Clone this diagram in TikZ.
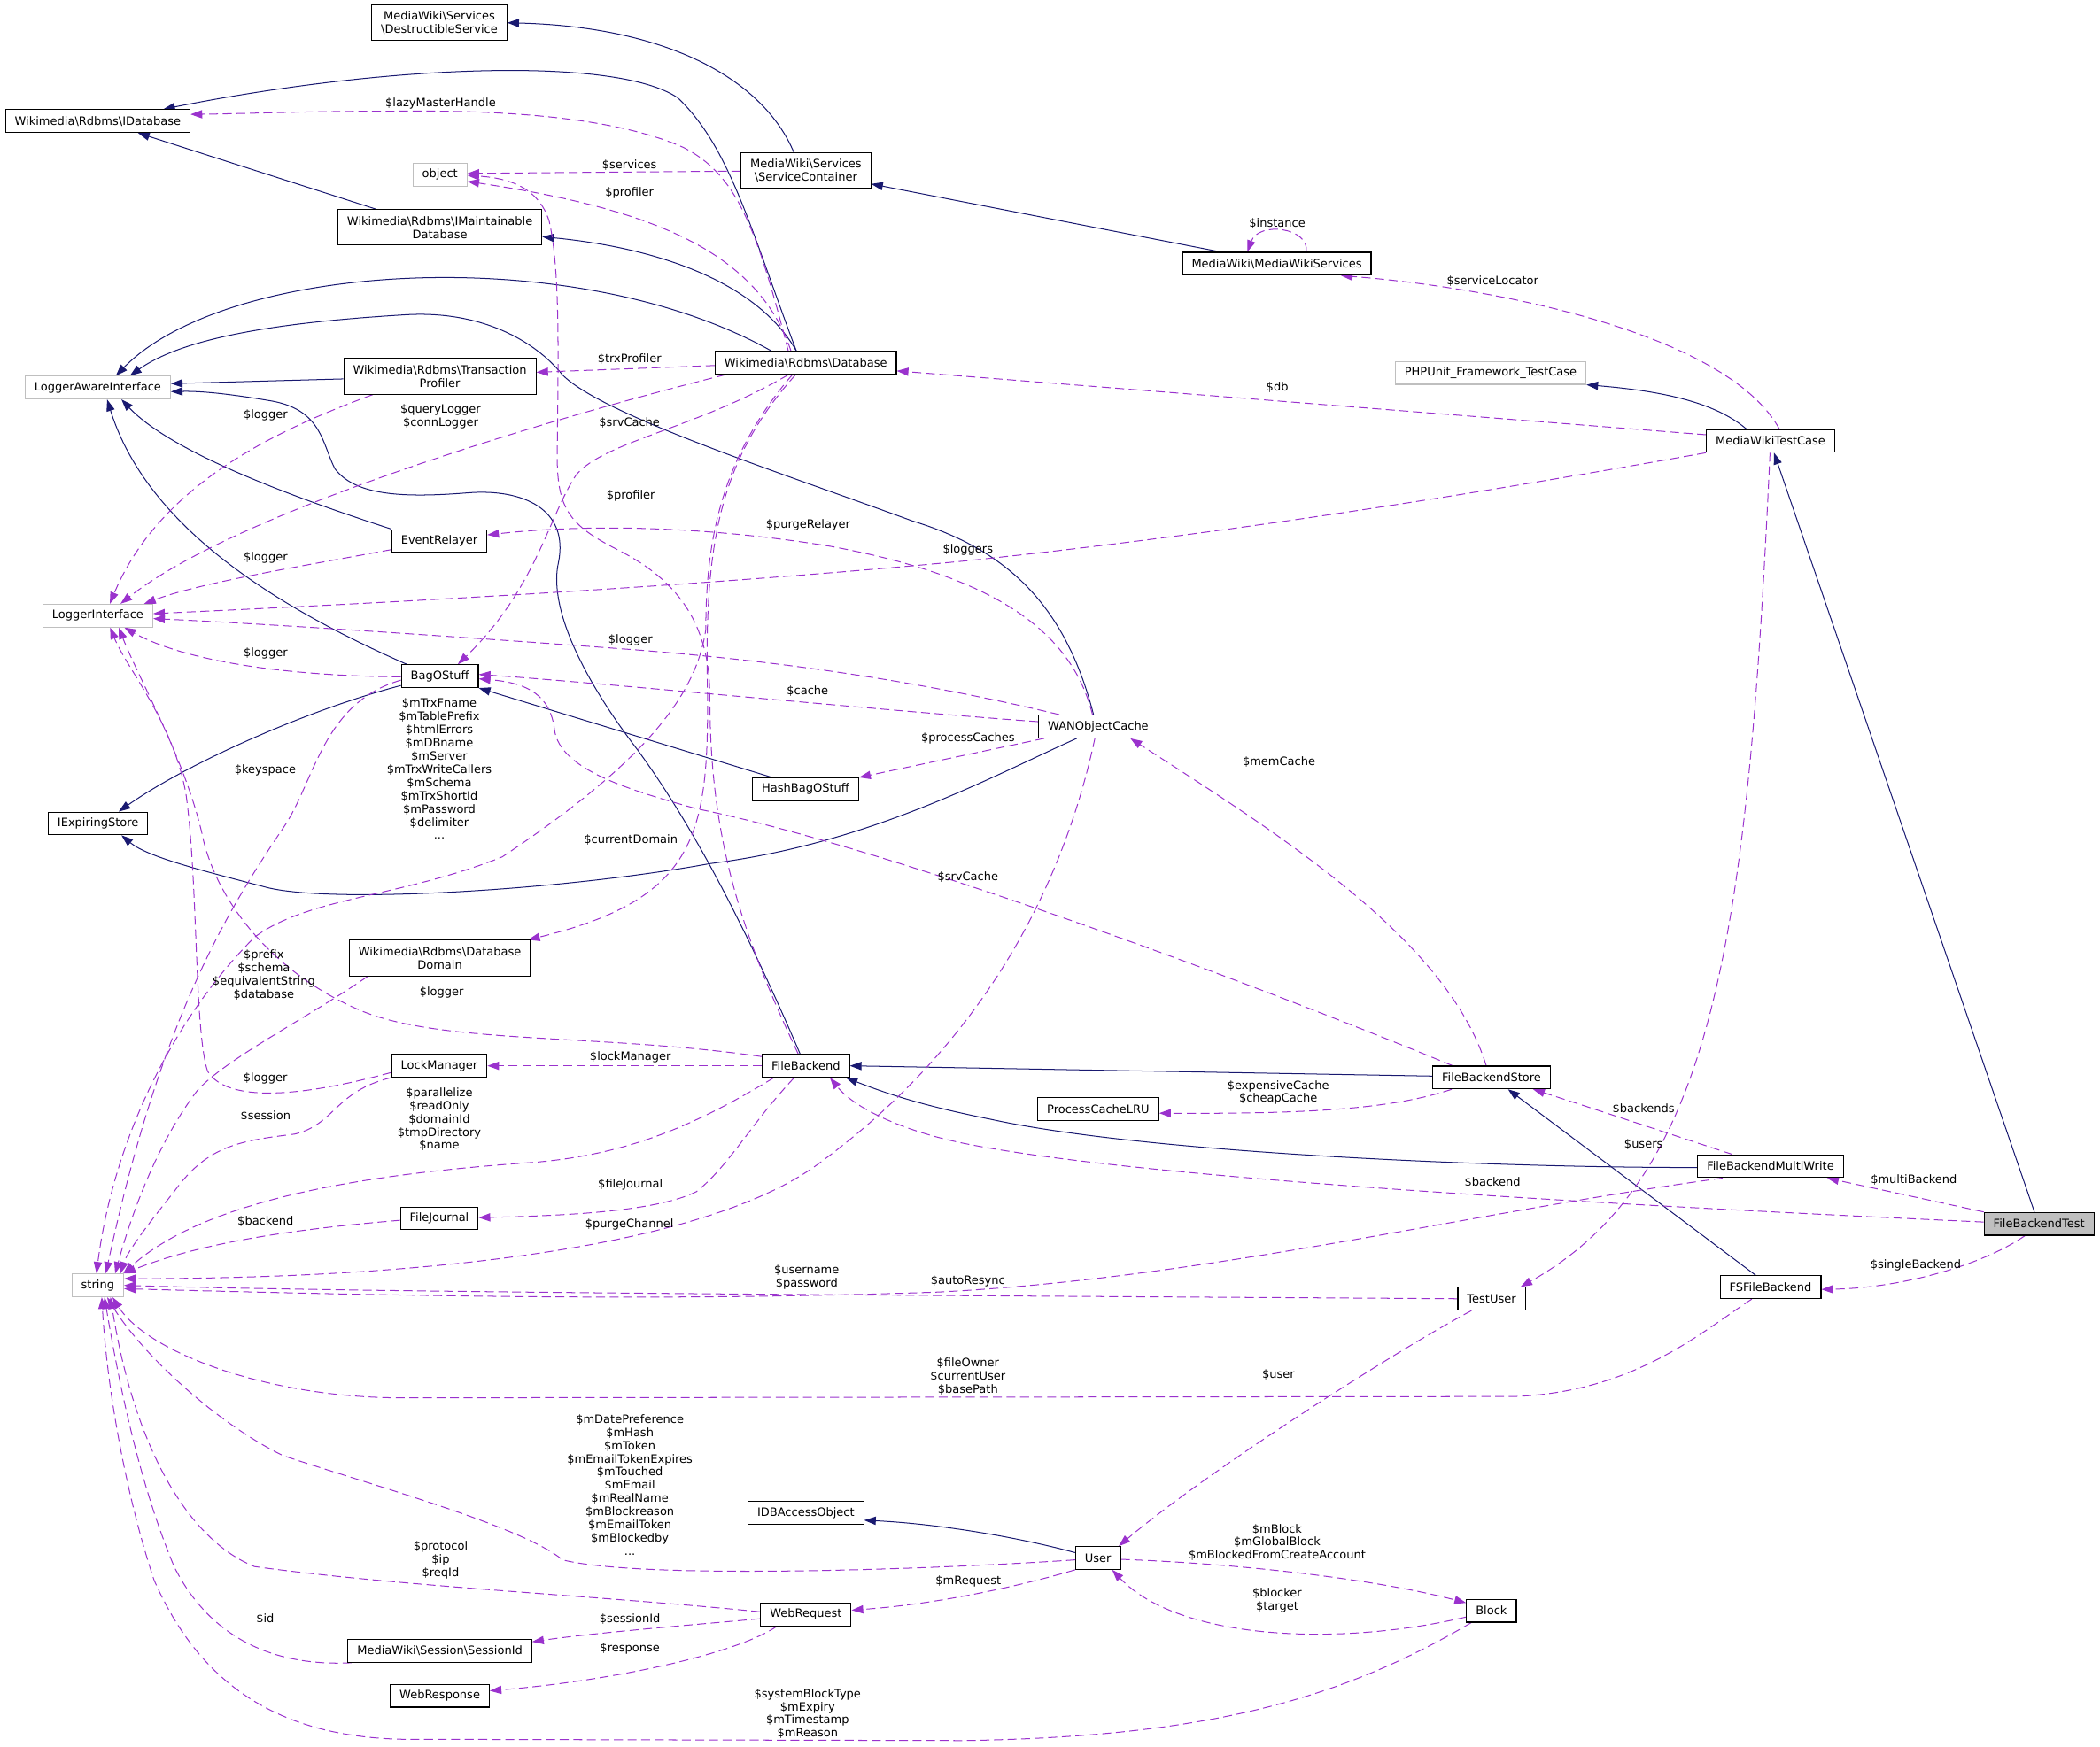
\documentclass[tikz,border=0pt]{standalone}
\usepackage{fontspec}
\setmainfont{DejaVu Sans}
\usetikzlibrary{arrows.meta,calc}
\pgfdeclarelayer{bg}
\pgfsetlayers{bg,main}
\definecolor{inhcol}{HTML}{191970}
\definecolor{usecol}{HTML}{9A32CD}
\definecolor{lgray}{HTML}{BFBFBF}
\begin{document}
\begin{tikzpicture}[x=0.75pt,y=-0.75pt,
  every node/.style={font=\fontsize{6.45}{7.4}\selectfont},
  cls/.style={draw=black, line width=0.55pt, fill=white, inner xsep=5.2pt, inner ysep=0pt, minimum height=12.75pt, align=center},
  ext/.style={cls, draw=lgray},
  mainbox/.style={cls, fill=lgray},
  two/.style={minimum height=20pt},
  inh/.style={draw=inhcol, line width=0.5pt, -{Triangle[length=6.5pt,width=4.6pt]}},
  use/.style={draw=usecol, line width=0.5pt, dash pattern=on 5pt off 2.6pt, -{Triangle[length=6.5pt,width=4.6pt]}},
  lbl/.style={inner sep=0pt, align=center}]
\useasboundingbox (0,0) rectangle (1568,1304.2);
% nodes
\node[cls,two] (ds) at (328,17) {MediaWiki\textbackslash Services\\\textbackslash DestructibleService};
\node[cls] (idb) at (73,90.4) {Wikimedia\textbackslash Rdbms\textbackslash IDatabase};
\node[ext] (obj) at (328.5,130.5) {object};
\node[cls,two] (sc) at (601.7,127.4) {MediaWiki\textbackslash Services\\\textbackslash ServiceContainer};
\node[cls,two] (imd) at (328.4,169.8) {Wikimedia\textbackslash Rdbms\textbackslash IMaintainable\\Database};
\node[cls] (mws) at (953.3,197) {MediaWiki\textbackslash MediaWikiServices};
\node[ext] (lai) at (73,289.5) {LoggerAwareInterface};
\node[cls,two] (tp) at (328.4,281) {Wikimedia\textbackslash Rdbms\textbackslash Transaction\\Profiler};
\node[cls] (db) at (601.6,271) {Wikimedia\textbackslash Rdbms\textbackslash Database};
\node[ext] (php) at (1113,278.5) {PHPUnit\_Framework\_TestCase};
\node[cls] (mwtc) at (1322,329.3) {MediaWikiTestCase};
\node[cls] (er) at (328,404) {EventRelayer};
\node[ext] (li) at (73,459.8) {LoggerInterface};
\node[cls] (bag) at (328.4,505) {BagOStuff};
\node[cls] (wan) at (820,542.6) {WANObjectCache};
\node[cls] (hbs) at (601.5,589.5) {HashBagOStuff};
\node[cls] (ies) at (73.2,615) {IExpiringStore};
\node[cls,two] (dd) at (328.4,715.6) {Wikimedia\textbackslash Rdbms\textbackslash Database\\Domain};
\node[cls] (lm) at (328,796) {LockManager};
\node[cls] (fb) at (601.7,796) {FileBackend};
\node[cls] (fbs) at (1113.7,804.7) {FileBackendStore};
\node[cls] (pcl) at (820,828.4) {ProcessCacheLRU};
\node[cls] (fbmw) at (1322,871) {FileBackendMultiWrite};
\node[mainbox] (fbt) at (1522.5,914) {FileBackendTest};
\node[cls] (fj) at (328,910) {FileJournal};
\node[ext] (str) at (73,960) {string};
\node[cls] (tu) at (1113.7,970) {TestUser};
\node[cls] (fs) at (1322,961.4) {FSFileBackend};
\node[cls] (idba) at (601.7,1130) {IDBAccessObject};
\node[cls] (usr) at (819.8,1163.6) {User};
\node[cls] (wreq) at (601.7,1205.8) {WebRequest};
\node[cls] (sid) at (328.4,1233) {MediaWiki\textbackslash Session\textbackslash SessionId};
\node[cls] (blk) at (1113.6,1203) {Block};
\node[cls] (wres) at (328.4,1266.5) {WebResponse};
% labels
\node[lbl] (l01) at (329,77.6) {\$lazyMasterHandle};
\node[lbl] (l02) at (470,123.5) {\$services};
\node[lbl] (l03) at (470,143.8) {\$profiler};
\node[lbl] (l04) at (953.7,167) {\$instance};
\node[lbl] (l05) at (1114.5,210) {\$serviceLocator};
\node[lbl] (l06) at (470,268.5) {\$trxProfiler};
\node[lbl] (l07) at (953.7,289.3) {\$db};
\node[lbl] (l08) at (198.3,310) {\$logger};
\node[lbl] (l09) at (329,311) {\$queryLogger\\\$connLogger};
\node[lbl] (l10) at (470,316) {\$srvCache};
\node[lbl] (l11) at (471,370) {\$profiler};
\node[lbl] (l12) at (603.4,392.4) {\$purgeRelayer};
\node[lbl] (l13) at (722.7,410.6) {\$loggers};
\node[lbl] (l14) at (198.3,416.4) {\$logger};
\node[lbl] (l15) at (470.7,478) {\$logger};
\node[lbl] (l16) at (198.3,487.7) {\$logger};
\node[lbl] (l17) at (603,516) {\$cache};
\node[lbl] (l18) at (328,574.3) {\$mTrxFname\\\$mTablePrefix\\\$htmlErrors\\\$mDBname\\\$mServer\\\$mTrxWriteCallers\\\$mSchema\\\$mTrxShortId\\\$mPassword\\\$delimiter\\...};
\node[lbl] (l19) at (722.7,551.6) {\$processCaches};
\node[lbl] (l20) at (198,575) {\$keyspace};
\node[lbl] (l21) at (955,569.2) {\$memCache};
\node[lbl] (l22) at (471,627) {\$currentDomain};
\node[lbl] (l23) at (722.7,654.8) {\$srvCache};
\node[lbl] (l24) at (197,728) {\$prefix\\\$schema\\\$equivalentString\\\$database};
\node[lbl] (l25) at (329.8,741.3) {\$logger};
\node[lbl] (l26) at (470.7,789.7) {\$lockManager};
\node[lbl] (l27) at (198.2,805.4) {\$logger};
\node[lbl] (l28) at (328,836) {\$parallelize\\\$readOnly\\\$domainId\\\$tmpDirectory\\\$name};
\node[lbl] (l29) at (954.4,816) {\$expensiveCache\\\$cheapCache};
\node[lbl] (l30) at (1227.2,828.4) {\$backends};
\node[lbl] (l31) at (198.3,833.7) {\$session};
\node[lbl] (l32) at (1227.2,855) {\$users};
\node[lbl] (l33) at (1429,881) {\$multiBackend};
\node[lbl] (l34) at (1114.4,883.2) {\$backend};
\node[lbl] (l35) at (470.7,885) {\$fileJournal};
\node[lbl] (l36) at (198.3,912) {\$backend};
\node[lbl] (l37) at (470,914.4) {\$purgeChannel};
\node[lbl] (l38) at (1430.4,945) {\$singleBackend};
\node[lbl] (l39) at (602.3,953.7) {\$username\\\$password};
\node[lbl] (l40) at (722.7,956.6) {\$autoResync};
\node[lbl] (l41) at (954.6,1027) {\$user};
\node[lbl] (l42) at (722.7,1028) {\$fileOwner\\\$currentUser\\\$basePath};
\node[lbl] (l43) at (470.3,1109) {\$mDatePreference\\\$mHash\\\$mToken\\\$mEmailTokenExpires\\\$mTouched\\\$mEmail\\\$mRealName\\\$mBlockreason\\\$mEmailToken\\\$mBlockedby\\...};
\node[lbl] (l44) at (953.6,1152) {\$mBlock\\\$mGlobalBlock\\\$mBlockedFromCreateAccount};
\node[lbl] (l45) at (329,1165) {\$protocol\\\$ip\\\$reqId};
\node[lbl] (l46) at (723,1181) {\$mRequest};
\node[lbl] (l47) at (953.6,1195) {\$blocker\\\$target};
\node[lbl] (l48) at (198,1209) {\$id};
\node[lbl] (l49) at (470.3,1209) {\$sessionId};
\node[lbl] (l50) at (470.3,1231.3) {\$response};
\node[lbl] (l51) at (603,1280) {\$systemBlockType\\\$mExpiry\\\$mTimestamp\\\$mReason};
\begin{pgfonlayer}{bg}
% inheritance
\draw[inh] ($(sc.north)+(-9,0)$) .. controls (570,60) and (500,20) .. (ds.east);
\draw[inh] ($(db.north)+(-7,0)$) .. controls (560,170) and (545,110) .. (506,73) .. controls (460,42) and (290,48) .. ($(idb.north)+(49,0)$);
\draw[inh] ($(imd.north)+(-48,0)$) -- ($(idb.south)+(30,0)$);
\draw[inh] ($(db.north)+(-7,0)$) .. controls (565,210) and (490,185) .. ($(imd.east)+(0,7)$);
\draw[inh] ($(mws.north)+(-42,0)$) -- ($(sc.east)+(0,10)$);
\draw[inh] ($(db.north)+(-25.6,0)$) .. controls (430,180) and (170,195) .. ($(lai.north)+(13.5,0)$);
\draw[inh] ($(wan.north)+(-3.5,0)$) .. controls (795,450) and (750,410) .. (681,389) .. controls (580,352) and (450,310) .. (420,280) .. controls (400,255) and (360,232) .. (304,235) .. controls (220,240) and (140,250) .. ($(lai.north)+(24,0)$);
\draw[inh] ($(tp.west)+(0,2)$) -- ($(lai.east)+(0,-3)$);
\draw[inh] ($(fb.north)+(-4.3,0)$) .. controls (560,700) and (520,620) .. (476,560) .. controls (430,500) and (410,450) .. (417,420) .. controls (425,380) and (390,365) .. (350,368) .. controls (300,372) and (265,370) .. (250,350) .. controls (240,330) and (240,305) .. (200,299) .. controls (170,294) and (150,292) .. ($(lai.east)+(0,3)$);
\draw[inh] ($(bag.north)+(-24.7,0)$) .. controls (210,455) and (110,395) .. ($(lai.south)+(7,0)$);
\draw[inh] (er.north west) .. controls (230,375) and (130,340) .. ($(lai.south)+(17.7,0)$);
\draw[inh] ($(bag.west)+(0,7)$) .. controls (230,530) and (140,570) .. ($(ies.north)+(15.4,0)$);
\draw[inh] ($(hbs.north)+(-25,0)$) -- (bag.south east);
\draw[inh] ($(wan.south)+(-16,0)$) .. controls (740,580) and (650,630) .. (530,645) .. controls (420,665) and (250,675) .. (200,663) .. controls (150,650) and (110,640) .. ($(ies.south)+(17.5,0)$);
\draw[inh] ($(fbs.west)+(0,-1)$) -- (fb.east);
\draw[inh] ($(fbmw.west)+(0,1)$) .. controls (1100,872) and (850,860) .. (740,836) .. controls (700,828) and (670,820) .. ($(fb.south east)+(-3,0)$);
\draw[inh] ($(fs.north)+(-11,0)$) -- ($(fbs.south)+(12.3,0)$);
\draw[inh] ($(mwtc.north)+(-18,0)$) .. controls (1280,300) and (1240,292) .. (php.south east);
\draw[inh] ($(fbt.north)+(-3.5,0)$) -- ($(mwtc.south)+(2.6,0)$);
\draw[inh] ($(usr.west)+(0,-4)$) .. controls (760,1148) and (700,1138) .. ($(idba.east)+(0,5.4)$);
% usage
\draw[use] ($(db.north)+(-13,0)$) .. controls (565,170) and (550,130) .. (510,110) .. controls (460,88) and (380,82) .. (295,83) .. controls (230,83) and (180,85) .. ($(idb.east)+(0,-5)$);
\draw[use] ($(sc.west)+(0,0.4)$) -- ($(obj.east)+(0,-1)$);
\draw[use] ($(db.north)+(-11,0)$) .. controls (565,185) and (480,155) .. ($(obj.east)+(0,5)$);
\draw[use] ($(mws.north)+(22,0)$) .. controls (978,170) and (940,165) .. ($(mws.north)+(-22,0)$);
\draw[use] ($(mwtc.north)+(6.6,0)$) .. controls (1290,250) and (1120,215) .. ($(mws.south)+(48,0)$);
\draw[use] ($(mwtc.west)+(0,-4.6)$) -- ($(db.east)+(0,6)$);
\draw[use] (mwtc.south west) .. controls (1150,360) and (950,395) .. (720,419) .. controls (500,440) and (250,452) .. ($(li.east)+(0,-1.5)$);
\draw[use] ($(db.west)+(0,2)$) -- ($(tp.east)+(0,-3)$);
\draw[use] ($(db.south)+(-60,0)$) .. controls (420,310) and (180,380) .. ($(li.north)+(17,0)$);
\draw[use] ($(tp.south)+(-50,0)$) .. controls (210,320) and (120,360) .. ($(li.north)+(9,0)$);
\draw[use] ($(er.west)+(0,6.5)$) .. controls (230,422) and (150,435) .. ($(li.north)+(34.6,0)$);
\draw[use] ($(bag.west)+(0,0.5)$) .. controls (220,505) and (140,495) .. ($(li.south)+(19.8,0)$);
\draw[use] ($(wan.north)+(-29,0)$) .. controls (700,512) and (600,495) .. (470,485) .. controls (350,476) and (200,466) .. ($(li.east)+(0,2.2)$);
\draw[use] ($(wan.west)+(0,-3.6)$) .. controls (650,530) and (450,510) .. ($(bag.east)+(0,-1.3)$);
\draw[use] ($(wan.south west)+(4.5,0)$) -- (hbs.north east);
\draw[use] ($(wan.north)+(-4.3,0)$) .. controls (800,470) and (740,430) .. (620,408) .. controls (540,395) and (450,390) .. ($(er.east)+(0,-4.5)$);
\draw[use] ($(fbs.north)+(-4,0)$) .. controls (1080,700) and (950,620) .. ($(wan.south east)+(-20.8,0)$);
\draw[use] ($(fbs.north west)+(15,0)$) .. controls (900,720) and (650,630) .. (520,604) .. controls (470,590) and (418,575) .. (414,545) .. controls (411,520) and (395,510) .. ($(bag.east)+(0,2)$);
\draw[use] ($(fbs.south west)+(14.5,0)$) .. controls (1040,828) and (980,832) .. ($(pcl.east)+(0,3)$);
\draw[use] ($(fbmw.north)+(-28.6,0)$) .. controls (1250,848) and (1190,828) .. ($(fbs.south)+(31,0)$);
\draw[use] ($(mwtc.south)+(-0.4,0)$) .. controls (1305,700) and (1280,880) .. ($(tu.north)+(21.7,0)$);
\draw[use] (fbt.north west) -- ($(fbmw.south east)+(-12.5,0)$);
\draw[use] ($(fbt.south)+(-10.5,0)$) .. controls (1480,945) and (1420,962) .. ($(fs.east)+(0,1.6)$);
\draw[use] ($(fbt.west)+(0,-1.3)$) .. controls (1200,900) and (850,880) .. (720,854) .. controls (680,846) and (640,830) .. ($(fb.south)+(18,0)$);
\draw[use] (fb.west) -- (lm.east);
\draw[use] ($(fb.north west)+(0,2)$) .. controls (450,772) and (330,780) .. (270,755) .. controls (210,730) and (165,680) .. (152,628) .. controls (140,570) and (105,510) .. ($(li.south)+(15.6,0)$);
\draw[use] ($(lm.west)+(0,5)$) .. controls (230,818) and (170,825) .. (155,800) .. controls (145,770) and (148,660) .. (139,594) .. controls (130,540) and (95,500) .. ($(li.south)+(9.2,0)$);
\draw[use] ($(fb.south west)+(9,0)$) .. controls (520,840) and (470,862) .. (400,868) .. controls (300,875) and (160,890) .. ($(str.north)+(19,0)$);
\draw[use] ($(fb.south)+(-8.7,0)$) .. controls (560,840) and (545,870) .. (520,890) .. controls (490,905) and (420,908) .. ($(fj.east)+(0,-0.6)$);
\draw[use] ($(fj.west)+(0,1.4)$) .. controls (220,918) and (150,928) .. (str.north east);
\draw[use] ($(fb.north)+(-5.7,0)$) .. controls (550,690) and (530,620) .. (530,520) .. controls (530,460) and (500,430) .. (460,410) .. controls (425,392) and (416,380) .. (416,340) .. controls (417,260) and (418,200) .. (410,165) .. controls (402,140) and (380,133) .. ($(obj.east)+(0,0.5)$);
\draw[use] ($(db.south)+(-13,0)$) .. controls (520,320) and (450,330) .. (430,355) .. controls (410,385) and (400,440) .. ($(bag.north)+(13.5,0)$);
\draw[use] ($(db.south)+(-7.6,0)$) .. controls (540,340) and (527,400) .. (528,500) .. controls (530,620) and (525,670) .. ($(dd.north east)+(-2,0)$);
\draw[use] ($(db.south)+(-10,0)$) .. controls (540,340) and (527,400) .. (527,470) .. controls (520,520) and (480,570) .. (375,640) .. controls (300,670) and (230,670) .. (190,700) .. controls (130,760) and (85,850) .. ($(str.north)+(-1,0)$);
\draw[use] ($(bag.west)+(0,3)$) .. controls (240,525) and (235,585) .. (211,619) .. controls (170,680) and (120,760) .. ($(str.north)+(6,0)$);
\draw[use] ($(dd.south west)+(14,0)$) .. controls (230,760) and (170,790) .. (147.7,814) .. controls (120,850) and (100,900) .. ($(str.north)+(13,0)$);
\draw[use] (lm.south west) .. controls (250,815) and (250,840) .. (220,847) .. controls (180,852) and (155,855) .. (130,890) .. controls (110,915) and (95,935) .. ($(str.north)+(17,0)$);
\draw[use] ($(wan.south)+(-2.5,0)$) .. controls (790,680) and (720,790) .. (610,870) .. controls (520,935) and (300,955) .. ($(str.east)+(0,-5)$);
\draw[use] (tu.west) .. controls (800,968) and (300,966) .. (str.east);
\draw[use] ($(fbmw.south west)+(19,0)$) .. controls (1100,905) and (900,955) .. (700,965) .. controls (500,972) and (300,968) .. ($(str.east)+(0,2.5)$);
\draw[use] ($(fs.south west)+(24,0)$) .. controls (1270,995) and (1220,1040) .. (1130,1043) -- (300,1044) .. controls (200,1044) and (110,1010) .. ($(str.south)+(11,0)$);
\draw[use] ($(usr.west)+(0,1.4)$) .. controls (700,1172) and (480,1180) .. (420,1165) .. controls (390,1140) and (280,1110) .. (211,1087) .. controls (160,1062) and (105,1010) .. ($(str.south)+(7,0)$);
\draw[use] ($(wreq.west)+(0,-2)$) .. controls (450,1192) and (300,1185) .. (190,1170) .. controls (140,1150) and (100,1080) .. ($(str.south)+(9.5,0)$);
\draw[use] ($(sid.south west)+(3,0)$) .. controls (200,1245) and (155,1220) .. (130,1170) .. controls (105,1110) and (90,1040) .. ($(str.south)+(5,0)$);
\draw[use] ($(blk.south)+(-15,0)$) .. controls (1000,1270) and (900,1297) .. (720,1300) -- (300,1299) .. controls (210,1297) and (150,1260) .. (115,1180) .. controls (95,1120) and (80,1040) .. ($(str.south)+(3,0)$);
\draw[use] ($(tu.south)+(-15,0)$) .. controls (1040,1010) and (900,1100) .. ($(usr.north)+(15.5,0)$);
\draw[use] ($(usr.east)+(0,1)$) .. controls (930,1168) and (1030,1180) .. ($(blk.north west)+(0,3)$);
\draw[use] ($(blk.west)+(0,4.7)$) .. controls (1000,1230) and (880,1225) .. ($(usr.south)+(10.6,0)$);
\draw[use] (usr.south west) .. controls (760,1185) and (700,1198) .. ($(wreq.east)+(0,-3.2)$);
\draw[use] ($(wreq.west)+(0,3.2)$) .. controls (500,1215) and (440,1220) .. ($(sid.east)+(0,-6.8)$);
\draw[use] ($(wreq.south)+(-21.7,0)$) .. controls (550,1235) and (460,1255) .. ($(wres.east)+(0,-3.7)$);
\end{pgfonlayer}
\end{tikzpicture}
\end{document}
